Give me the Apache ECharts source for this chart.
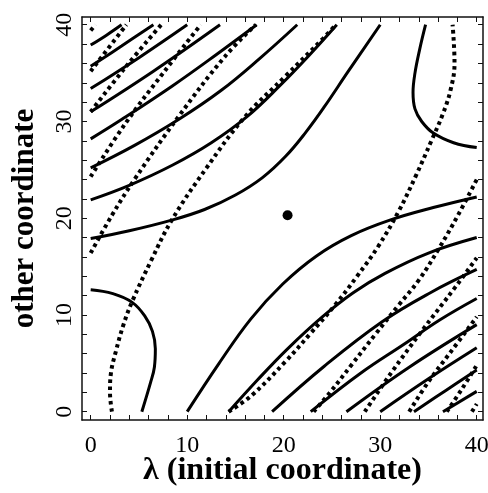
<!DOCTYPE html>
<html>
<head>
<meta charset="utf-8">
<script src="https://cdn.jsdelivr.net/npm/echarts@6/dist/echarts.min.js"></script>
<style>
  html, body { margin: 0; padding: 0; background: #fff; }
  #chart { width: 488px; height: 493px; }
</style>
</head>
<body>
<div id="chart"></div>
<script>
// tick positions and labels
var tickValues = [0, 2, 4, 6, 8, 10, 12, 14, 16, 18, 20, 22, 24, 26, 28, 30, 32, 34, 36, 38, 40]
var labelValues = [0, 10, 20, 30, 40]

// solid contours, upper-left family (left edge -> top edge)
var ulA = [[0, 37.9], [1.6, 38.9], [3.2, 40]]
var ulB = [[0, 35.7], [3.2, 37.8], [6.5, 40]]
var ulC = [[0, 33.4], [5, 36.6], [10, 40]]
var ulD = [[0, 31.0], [6.5, 35.2], [13.4, 40]]
var ulE = [[0, 28.2], [3.2, 30.2], [8.5, 33.7], [13, 36.9], [17.2, 40]]
var ulF = [[0, 25.2], [4.5, 27.5], [9.1, 30.2], [13.5, 33.2], [17.5, 36.5], [21.4, 40]]
var ulG = [[0, 21.9], [4, 23.4], [8.5, 25.5], [12.5, 27.8], [16.2, 30.5], [19.6, 33.7], [22.6, 36.8], [25.5, 40]]
var ulH = [[0, 17.9], [4, 18.7], [8.4, 19.8], [11.8, 20.9], [15, 22.4], [17.8, 24.2], [20.2, 26.4], [22.3, 28.9], [24.2, 31.5], [26.7, 35.2], [30, 40]]

// solid contours, lower-right family (bottom edge -> right edge)
var lrA = [[10, 0], [13.3, 5], [16.6, 9.6], [19.9, 13.2], [23.4, 16.1], [27, 18.2], [31, 19.8], [35.5, 21.1], [40, 22.2]]
var lrB = [[14.3, 0], [17.3, 3.3], [20.4, 6.5], [24, 9.8], [27.2, 12.3], [30.5, 14.3], [35, 16.4], [40, 18]]
var lrC = [[18.8, 0], [24.2, 4.7], [30.2, 9.3], [35.2, 12.3], [40, 14.7]]
var lrD = [[22.8, 0], [28, 4], [32.5, 7], [36.2, 9.5], [40, 11.7]]
var lrE = [[26.5, 0], [33, 4.6], [40, 9]]
var lrF = [[30, 0], [35, 3.4], [40, 6.6]]
var lrG = [[33.5, 0], [36.8, 2.2], [40, 4.3]]
var lrH = [[36.5, 0], [40, 2.1]]

// solid hyperbola branches in the other two corners
var urBranch = [[34.7, 40], [34.1, 37.5], [33.6, 35], [33.4, 33], [33.6, 31.3], [34.3, 30], [35.5, 28.8], [37.6, 27.8], [40, 27.3]]
var llBranch = [[0, 12.6], [2.3, 12.2], [4.3, 11.3], [5.6, 9.9], [6.4, 8.3], [6.7, 6.5], [6.6, 4.6], [6.2, 3], [5.3, 0]]

// dotted contours
var dotWest = [[2.2, 0], [2.0, 2], [2.1, 4], [2.6, 6.2], [3.4, 9], [4.3, 11.4], [6.3, 15.7], [8.4, 19.8], [12, 25.2], [16, 30.5], [20.2, 34.7], [24.1, 38.6], [25.4, 40]]
var dotEast = [[14.3, 0], [16.7, 1.7], [20.2, 5.2], [22.7, 8], [25.3, 11], [27.6, 14], [29.8, 17.1], [31.9, 20.7], [33.7, 24.4], [35.3, 28], [36.5, 30.8], [37.3, 33.3], [37.7, 36], [37.5, 40]]
var dotNW1 = [[0, 16.4], [2.2, 20.3], [4.6, 24.1], [9.1, 30.5], [13.9, 36.7], [17.1, 40]]
var dotNW2 = [[0, 24.3], [3.6, 29.8], [7.5, 35], [11.4, 40]]
var dotNW3 = [[0, 31], [3.6, 35.6], [7.3, 40]]
var dotNW4 = [[0, 35.2], [3.7, 40]]
var dotNW5 = [[0, 39.4], [0.5, 40]]
var dotSE1 = [[23.1, 0], [24.8, 2], [27, 4.8], [29.5, 8], [31.9, 11], [34, 13.6], [36.1, 16.9], [38, 20.2], [40, 24]]
var dotSE2 = [[28.4, 0], [31.2, 4.1], [34.2, 8.2], [37.8, 12.9], [40, 15.9]]
var dotSE3 = [[33, 0], [35, 3.1], [37.1, 5.9], [40, 9.8]]
var dotSE4 = [[36.9, 0], [38.5, 2.4], [40, 4.8]]
var dotSE5 = [[39.5, 0], [40, 0.8]]

// saddle point
var saddle = [[20.4, 20.3]]

var solidCurves = [ulA, ulB, ulC, ulD, ulE, ulF, ulG, ulH, lrA, lrB, lrC, lrD, lrE, lrF, lrG, lrH, urBranch, llBranch]
var dottedCurves = [dotWest, dotEast, dotNW1, dotNW2, dotNW3, dotNW4, dotNW5, dotSE1, dotSE2, dotSE3, dotSE4, dotSE5]

var serif = '"Liberation Serif", "DejaVu Serif", serif'

function frameAxis(pos, isX, showLabels, name) {
  var ax = {
    type: 'value',
    position: pos,
    min: isX ? -0.9 : -0.86,
    max: isX ? 40.65 : 40.8,
    axisLine: { show: true, onZero: false, lineStyle: { color: '#111', width: 1.5 } },
    axisTick: { show: true, inside: true, length: 5, customValues: tickValues, lineStyle: { color: '#111', width: 1 } },
    axisLabel: {
      show: showLabels,
      customValues: labelValues,
      color: '#000',
      fontFamily: serif,
      fontSize: 24,
      margin: isX ? 14 : 5,
      rotate: isX ? 0 : 90
    },
    splitLine: { show: false }
  }
  if (name) {
    ax.name = name
    ax.nameLocation = 'middle'
    ax.nameGap = isX ? 35 : 42
    ax.nameMoveOverlap = false
    ax.nameTextStyle = { fontFamily: serif, fontWeight: 'bold', fontSize: isX ? 32 : 31, color: '#000' }
  }
  return ax
}

var series = []
solidCurves.forEach(function(c) {
  series.push({
    type: 'line',
    data: c,
    smooth: 0.4,
    showSymbol: false,
    silent: true,
    lineStyle: { color: '#000', width: 3 }
  })
})
dottedCurves.forEach(function(c) {
  series.push({
    type: 'line',
    data: c,
    smooth: 0.4,
    showSymbol: false,
    silent: true,
    lineStyle: { color: '#000', width: 4, type: [3.6, 3.6], cap: 'butt' }
  })
})
series.push({
  type: 'scatter',
  data: saddle,
  symbolSize: 10,
  itemStyle: { color: '#000', opacity: 1 }
})

var chart = echarts.init(document.getElementById('chart'))
chart.setOption({
  animation: false,
  backgroundColor: '#fff',
  grid: { left: 82, top: 17, width: 401, height: 403, containLabel: false, outerBoundsMode: 'none' },
  xAxis: [
    frameAxis('bottom', true, true, 'λ (initial coordinate)'),
    frameAxis('top', true, false)
  ],
  yAxis: [
    frameAxis('left', false, true, 'other coordinate'),
    frameAxis('right', false, false)
  ],
  series: series
})
</script>
</body>
</html>
